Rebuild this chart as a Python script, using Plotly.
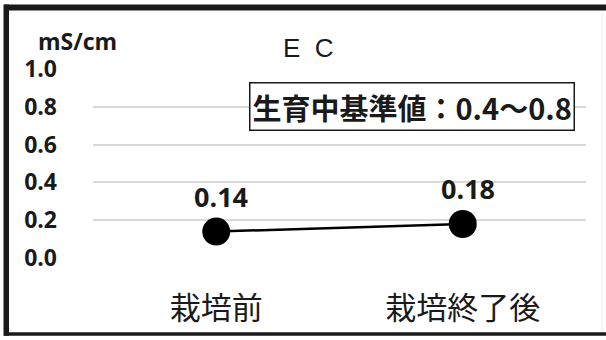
import plotly.graph_objects as go

# EC measurements (mS/cm)
stages = ["栽培前", "栽培終了後"]
ec_values = [0.14, 0.18]
y_ticks = [0.0, 0.2, 0.4, 0.6, 0.8, 1.0]
y_tick_labels = ["0.0", "0.2", "0.4", "0.6", "0.8", "1.0"]
unit_label = "mS/cm"
title_text = "E  C"
reference_note = "生育中基準値：0.4～0.8"

W, H = 606, 340
L, R, T, B = 93, 20, 69, 79
plot_w = W - L - R
plot_h = H - T - B

def px_x(px):
    return (px - L) / plot_w

def px_y(py):
    return (H - B - py) / plot_h

LATIN = "Open Sans, Liberation Sans, Arial, sans-serif"
CJK = "Noto Sans CJK JP, sans-serif"
INK = "#1a1a1a"

fig = go.Figure()
fig.add_trace(go.Scatter(
    x=stages, y=ec_values, mode="lines+markers",
    line=dict(color="#000000", width=2.5),
    marker=dict(color="#000000", size=28),
    showlegend=False, hoverinfo="skip",
))

annotations = []
for s, v in zip(stages, ec_values):
    annotations.append(dict(
        x=s, y=v, xref="x", yref="y", text=f"<b>{v:.2f}</b>",
        showarrow=False, yshift=35, xshift=5,
        xanchor="center", yanchor="middle",
        font=dict(family=LATIN, size=27, color=INK),
    ))

annotations += [
    dict(x=px_x(308), y=px_y(48), xref="paper", yref="paper", text=title_text,
         xanchor="center", yanchor="middle", showarrow=False,
         font=dict(family="Liberation Sans, Arial", size=26, color=INK)),
    dict(x=px_x(77), y=px_y(41), xref="paper", yref="paper", text=f"<b>{unit_label}</b>",
         xanchor="center", yanchor="middle", showarrow=False,
         font=dict(family=LATIN, size=23, color=INK)),
    dict(x=px_x(411.5), y=px_y(107.5), xref="paper", yref="paper",
         text=f"<b>{reference_note}</b>", showarrow=False,
         xanchor="center", yanchor="middle",
         bgcolor="#ffffff", bordercolor=INK, borderwidth=1.5, borderpad=2,
         font=dict(family=CJK, size=29, color=INK)),
]

shapes = [
    # frame around the chart: heavy top and left edges, thinner bottom edge
    dict(type="rect", xref="paper", yref="paper", x0=px_x(4), x1=px_x(606),
         y0=px_y(9.5), y1=px_y(3.5), line=dict(width=0), fillcolor=INK, layer="above"),
    dict(type="rect", xref="paper", yref="paper", x0=px_x(3.5), x1=px_x(9),
         y0=px_y(340), y1=px_y(3.5), line=dict(width=0), fillcolor=INK, layer="above"),
    dict(type="rect", xref="paper", yref="paper", x0=px_x(4), x1=px_x(606),
         y0=px_y(340), y1=px_y(336.5), line=dict(width=0), fillcolor=INK, layer="above"),
    dict(type="line", xref="paper", yref="paper", x0=px_x(602), x1=px_x(602),
         y0=px_y(10), y1=px_y(336), line=dict(color="#ececec", width=1)),
]

fig.update_layout(
    width=W, height=H,
    margin=dict(l=L, r=R, t=T, b=B),
    paper_bgcolor="#ffffff", plot_bgcolor="#ffffff",
    annotations=annotations, shapes=shapes,
    xaxis=dict(
        type="category", range=[-0.5, 1.5], showgrid=False, zeroline=False,
        showline=False, ticks="", ticklabelstandoff=29,
        tickfont=dict(family=CJK, size=31, color=INK),
    ),
    yaxis=dict(
        range=[0, 1.0], tickvals=y_ticks, ticktext=[f"<b>{t}</b>" for t in y_tick_labels],
        showgrid=True, gridcolor="#d9d9d9", gridwidth=2, zeroline=False,
        showline=False, ticks="", ticklabelstandoff=35,
        tickfont=dict(family=LATIN, size=23, color=INK),
    ),
)

fig.write_html("out.html")
